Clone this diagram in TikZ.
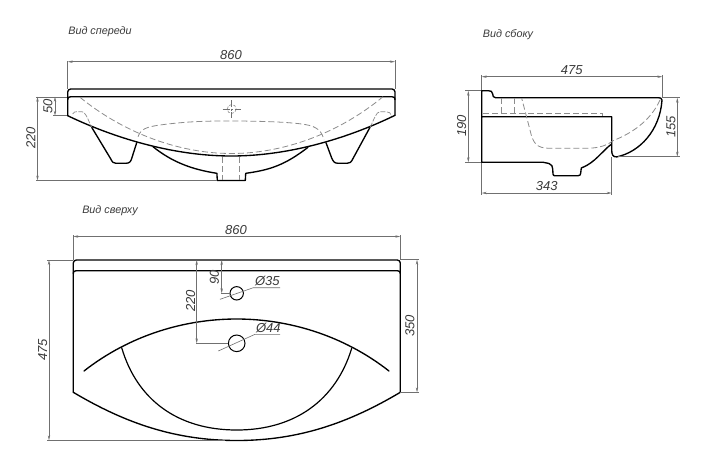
\documentclass[tikz,border=0pt]{standalone}
\usepackage{fontspec}
\setmainfont{Liberation Sans}
\usetikzlibrary{arrows.meta}
\definecolor{dimc}{HTML}{707070}
\definecolor{txtc}{HTML}{3A3A3A}
\definecolor{dashc}{HTML}{8C8C8C}
\tikzset{
  outline/.style={black,line width=1.35pt,line join=round,line cap=round},
  thin outline/.style={black,line width=1pt,line cap=round},
  hidden/.style={dashc,line width=.8pt,dash pattern=on 6pt off 3pt},
  dimline/.style={dimc,line width=.6pt,{Stealth[length=5pt,width=2.4pt]}-{Stealth[length=5pt,width=2.4pt]}},
  ext/.style={dimc,line width=.6pt},
  dimtext/.style={text=txtc,font=\itshape\fontsize{13}{15}\selectfont,inner sep=0pt},
  viewtext/.style={text=txtc,font=\itshape\fontsize{10.8}{12}\selectfont,inner sep=0pt},
  sm/.style={smooth,tension=.55}
}
\begin{document}
\begin{tikzpicture}[x=1pt,y=-1pt]
\useasboundingbox (0,0) rectangle (701,464);
\fill[white] (0,0) rectangle (701,464);
% ---------- front view
\node[viewtext] (lfront) at (100,32) {Вид спереди};
\draw[outline,rounded corners=3pt] (67.7,115.7) -- (67.7,89) -- (395,89) -- (395,115.3);
\draw[outline] (67.7,99.5) .. controls (67.7,97.5) and (68.5,96.8) .. (70.5,96.8) -- (392.2,96.8) .. controls (394.2,96.8) and (395,97.5) .. (395,99.5);
\draw[outline] (67.7,115.7) .. controls (110,136) and (170,156) .. (231.35,156) .. controls (292.7,156) and (352.7,136) .. (395,115.3);
\draw[outline] (91.7,127.3) -- (110.5,158.5) .. controls (112.5,162.5) and (113.5,163.3) .. (116,163.3) -- (126,163.3) .. controls (130,163.3) and (131,161) .. (132,157.5) -- (136.7,142.7);
\draw[outline] (370,127.3) -- (353,158.5) .. controls (351,162.5) and (350,163.3) .. (347,163.3) -- (338,163.3) .. controls (334,163.3) and (333,161) .. (331.5,157.5) -- (326,142.7);
\draw[outline] (153,146.7) .. controls (172,162) and (192,169.5) .. (216.9,173.3) -- (217.3,180.5) -- (245.3,180.5) -- (245.7,173.3) .. controls (270,170) and (285,165) .. (308,147.3);
\draw[hidden] (80,97.3) .. controls (120,130) and (175,153.5) .. (231.5,153.5) .. controls (288,153.5) and (343,130) .. (383,96.7);
\draw[hidden] (138,136.7) .. controls (141,129) and (146,127) .. (160,125) .. controls (190,121) and (210,121) .. (231,121) .. controls (260,121) and (290,122) .. (305,124.5) .. controls (318,126.5) and (322,132) .. (324,140);
\draw[hidden,line width=.7pt,dash pattern=on 5pt off 1.5pt] (72.7,114) .. controls (74,111.7) and (75,111.7) .. (77,111.7) -- (82,111.7) .. controls (85,111.7) and (87,117) .. (91.7,127.3);
\draw[hidden,line width=.7pt,dash pattern=on 5pt off 1.5pt] (370,127.3) .. controls (374,120) and (376,111.7) .. (380,111.7) -- (386,111.7) .. controls (389,111.7) and (391,113) .. (391.7,116);
\draw[hidden] (222.7,157) -- (222.7,180) (239.3,157) -- (239.3,180);
\draw[hidden,dash pattern=on 3pt off 1.5pt,line width=.6pt] (231.7,109) circle[radius=4.5];
\draw[ext,dash pattern=on 7pt off 1.5pt on 2pt off 1.5pt] (231.7,100) -- (231.7,118) (222.5,109) -- (241,109);
% front dims
\draw[ext] (67.7,61) -- (67.7,89) (395,60) -- (395,89);
\draw[dimline] (67.7,61.7) -- (395,61.7);
\node[dimtext] (d860a) at (231,55) {860};
\draw[ext] (36,96.8) -- (67,96.8) (53,115.7) -- (67,115.7) (36,180.5) -- (217,180.5);
\draw[dimline] (55,96.8) -- (55,115.7);
\draw[dimline] (37.5,96.8) -- (37.5,180.5);
\node[dimtext,rotate=90] (d50) at (48,106) {50};
\node[dimtext,rotate=90] (d220a) at (31,138) {220};
% ---------- side view
\node[viewtext] (lside) at (508,34.5) {Вид сбоку};
\draw[outline] (481.7,116.7) -- (611.7,116.7) -- (611.7,150) .. controls (611.7,155) and (613,157) .. (616.7,156.9) .. controls (640,152) and (660,130) .. (662,100) .. controls (662,98) and (660,97.7) .. (658,97.7) -- (495.5,97.7) .. controls (493,97.7) and (493,96) .. (492.7,94) .. controls (492.4,91.5) and (491,90.7) .. (488.5,90.7) -- (481.7,90.7) -- (481.7,162.3) -- (543.3,162.3) -- (549,163.5) .. controls (552,165) and (552.5,166) .. (552.7,169) -- (553,174) .. controls (553,175.7) and (554,175.7) .. (555,175.7) -- (578,175.7) .. controls (580,175.7) and (580.5,175) .. (580.7,173) -- (581.3,168) .. controls (595,163) and (603,150) .. (611.7,144);
\draw[hidden] (660,100) .. controls (650,122) and (630,134) .. (613,140.7) .. controls (605,147) and (595,148.3) .. (585,148.3) -- (550,148.3) .. controls (536,148.3) and (533,143) .. (530,130) -- (521.7,98.3);
\draw[hidden] (483.3,113.3) -- (602.3,113.3) -- (602.3,116);
\draw[hidden] (501.7,98) -- (501.7,115) (514,98) -- (514,115);
% side dims
\draw[ext] (481.7,75) -- (481.7,90) (662.3,75) -- (662.3,97);
\draw[dimline] (481.7,76.7) -- (662.3,76.7);
\node[dimtext] (d475a) at (571.7,70) {475};
\draw[ext] (465,90.7) -- (481,90.7) (465,162.3) -- (481,162.3);
\draw[dimline] (468.3,90.7) -- (468.3,162.3);
\node[dimtext,rotate=90] (d190) at (461.7,126) {190};
\draw[ext] (662,97.7) -- (680,97.7) (618,156.7) -- (680,156.7);
\draw[dimline] (677.3,97.7) -- (677.3,156.7);
\node[dimtext,rotate=90] (d155) at (671,127) {155};
\draw[ext] (481.7,163) -- (481.7,195) (611.7,157) -- (611.7,195);
\draw[dimline] (481.7,193) -- (611.7,193);
\node[dimtext] (d343) at (546.7,186) {343};
% ---------- top view
\node[viewtext] (ltop) at (110,210.7) {Вид сверху};
\draw[outline,rounded corners=3pt] (73.3,392.3) -- (73.3,260) -- (400.3,260) -- (400.3,392.3);
\draw[outline] (73.3,273.5) .. controls (73.3,271.5) and (74,270.8) .. (76,270.8) -- (397.6,270.8) .. controls (399.6,270.8) and (400.3,271.5) .. (400.3,273.5);
\draw[outline] (73.3,392.3) .. controls (125,423) and (175,440.5) .. (236.8,440.5) .. controls (298.6,440.5) and (348.6,423) .. (400.3,392.3);
\draw[outline] (84,371) .. controls (130,335) and (185,319) .. (236.5,319) .. controls (288,319) and (343,335) .. (389,371);
\draw[outline,line width=1.2pt] (121.7,347.7) .. controls (137,400) and (178,430) .. (236.7,430) .. controls (295,430) and (336,400) .. (351.7,348.3);
\draw[thin outline] (236.7,293.3) circle[radius=6.7];
\draw[thin outline] (236.7,343.3) circle[radius=8.3];
\draw[ext] (220,299.3) -- (253.3,287.7) -- (280,287.7);
\draw[ext] (218.3,351) -- (255,334.3) -- (280,334.3);
\node[dimtext] (dh35) at (267.3,280.7) {Ø35};
\node[dimtext] (dh44) at (268.3,328.3) {Ø44};
% top dims
\draw[ext] (73.3,235) -- (73.3,260) (400.3,235) -- (400.3,260);
\draw[dimline] (73.3,236.5) -- (400.3,236.5);
\node[dimtext] (d860b) at (236,230) {860};
\draw[ext] (221,293.3) -- (229.5,293.3) (196,343.3) -- (228,343.3);
\draw[dimline] (221.7,260) -- (221.7,293.3);
\draw[dimline] (196.7,260) -- (196.7,343.3);
\node[dimtext,rotate=90] (d90) at (214.3,277.3) {90};
\node[dimtext,rotate=90] (d220b) at (190.7,301) {220};
\draw[ext] (47,260) -- (73,260) (47,440.3) -- (225,440.3);
\draw[dimline] (49,260) -- (49,440.3);
\node[dimtext,rotate=90] (d475b) at (42.7,350) {475};
\draw[ext] (400,259.7) -- (419,259.7) (400,392.3) -- (419,392.3);
\draw[dimline] (417,259.7) -- (417,392.3);
\node[dimtext,rotate=90] (d350) at (410,326) {350};
\end{tikzpicture}
\end{document}
